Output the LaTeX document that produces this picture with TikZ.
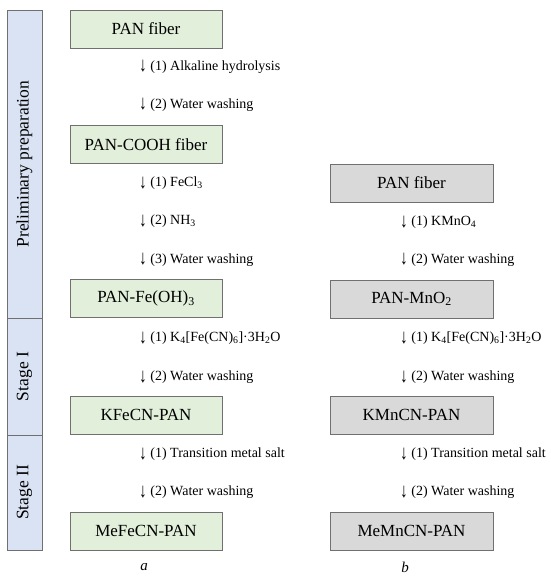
\documentclass[tikz,border=0pt]{standalone}
\usepackage{fontspec}
\setmainfont{Liberation Serif}
\definecolor{boxgreen}{HTML}{E2EFDA}
\definecolor{boxgray}{HTML}{D9D9D9}
\definecolor{barblue}{HTML}{DAE3F3}
\definecolor{boxline}{HTML}{707070}
\newcommand{\downstep}{\raisebox{-0.25ex}{\scalebox{1.1}[1.45]{↓}}}
\begin{document}
\begin{tikzpicture}[x=1pt, y=-1pt,
        stage/.style={draw=boxline, fill=barblue, minimum width=35pt, inner sep=0pt},
        stagelabel/.style={rotate=90, font=\fontsize{17.5}{20}\selectfont},
        fiber/.style={draw=boxline, fill=boxgreen, minimum width=152pt, minimum height=38pt, inner sep=0pt, font=\fontsize{17}{20}\selectfont},
        mnfiber/.style={fiber, fill=boxgray, minimum width=163pt},
        treat/.style={anchor=west, inner sep=0pt, font=\fontsize{14}{16}\selectfont},
        panel/.style={font=\fontsize{15}{17}\selectfont\itshape}
      ]
      \useasboundingbox (0,0) rectangle (550,583);
      % stages
      \node[stage, minimum height=308pt] (prelim) at (24.5,164) {};
      \node[stage, minimum height=117pt] (stage1) at (24.5,376.5) {};
      \node[stage, minimum height=115pt] (stage2) at (24.5,492.5) {};
      \node[stagelabel] (prelimlabel) at (prelim) {Preliminary preparation};
      \node[stagelabel] (stage1label) at (stage1) {Stage I};
      \node[stagelabel] (stage2label) at (stage2) {Stage II};

      % route a
      \node[fiber] (panA) at (146,29) {PAN fiber};
      \node[fiber] (coohA) at (146,144.5) {PAN-COOH fiber};
      \node[fiber] (feohA) at (146,298.5) {PAN-Fe(OH)\textsubscript{3}};
      \node[fiber] (kfecn) at (146,415) {KFeCN-PAN};
      \node[fiber] (mefecn) at (146,531) {MeFeCN-PAN};
      \node[treat] (a1) at (139,67) {\downstep{} (1) Alkaline hydrolysis};
      \node[treat] (a2) at (139,105) {\downstep{} (2) Water washing};
      \node[treat] (a3) at (139,183) {\downstep{} (1) FeCl\textsubscript{3}};
      \node[treat] (a4) at (139,221) {\downstep{} (2) NH\textsubscript{3}};
      \node[treat] (a5) at (139,260) {\downstep{} (3) Water washing};
      \node[treat] (a6) at (139,338) {\downstep{} (1) K\textsubscript{4}[Fe(CN)\textsubscript{6}]·3H\textsubscript{2}O};
      \node[treat] (a7) at (139,377) {\downstep{} (2) Water washing};
      \node[treat] (a8) at (139,454) {\downstep{} (1) Transition metal salt};
      \node[treat] (a9) at (139,492) {\downstep{} (2) Water washing};
      \node[panel] (labela) at (144,567) {a};

      % route b
      \node[mnfiber] (panB) at (411.5,183) {PAN fiber};
      \node[mnfiber] (mno2) at (411.5,299) {PAN-MnO\textsubscript{2}};
      \node[mnfiber] (kmncn) at (411.5,415) {KMnCN-PAN};
      \node[mnfiber] (memncn) at (411.5,531) {MeMnCN-PAN};
      \node[treat] (b1) at (400,222) {\downstep{} (1) KMnO\textsubscript{4}};
      \node[treat] (b2) at (400,260) {\downstep{} (2) Water washing};
      \node[treat] (b3) at (400,338) {\downstep{} (1) K\textsubscript{4}[Fe(CN)\textsubscript{6}]·3H\textsubscript{2}O};
      \node[treat] (b4) at (400,377) {\downstep{} (2) Water washing};
      \node[treat] (b5) at (400,454) {\downstep{} (1) Transition metal salt};
      \node[treat] (b6) at (400,492) {\downstep{} (2) Water washing};
      \node[panel] (labelb) at (405,567) {b};
    \end{tikzpicture}
\end{document}
